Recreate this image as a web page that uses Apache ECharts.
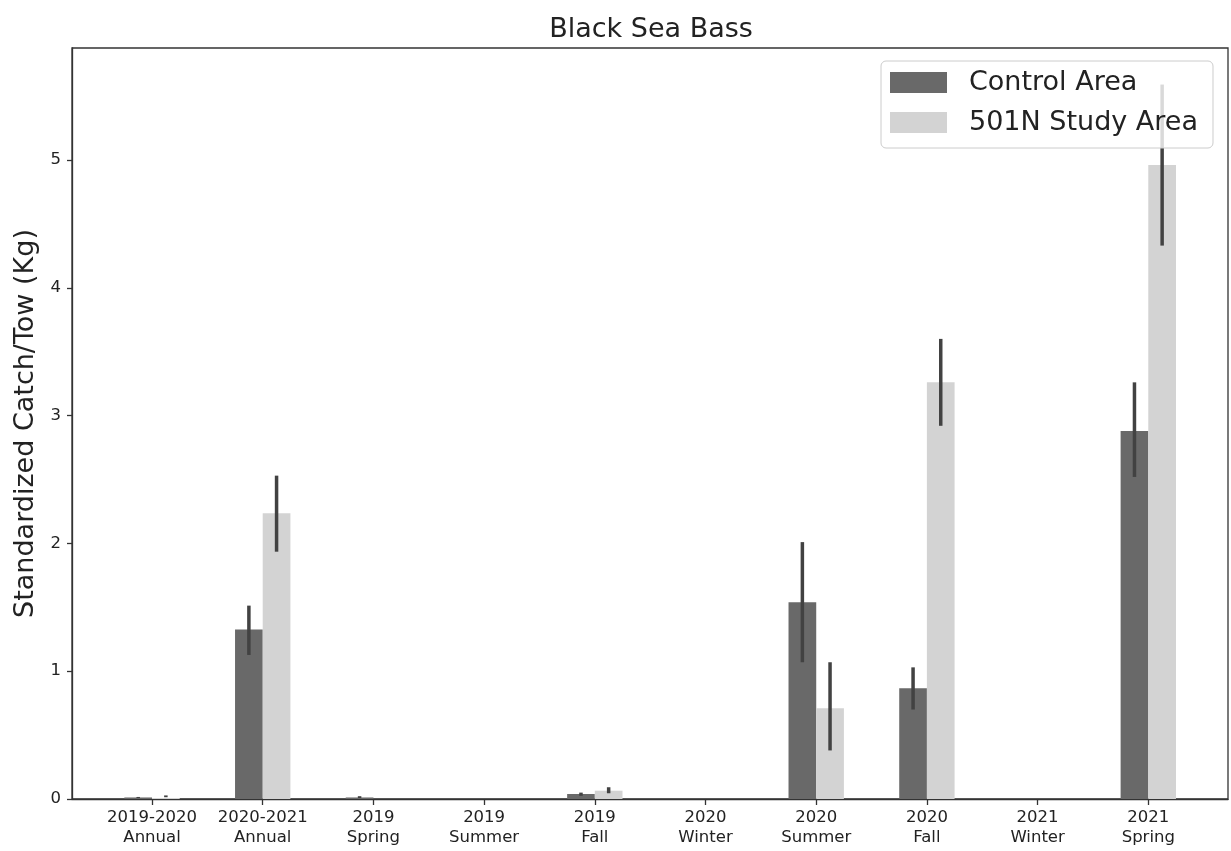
<!DOCTYPE html>
<html>
<head>
<meta charset="utf-8">
<script src="https://cdn.jsdelivr.net/npm/echarts@6/dist/echarts.min.js"></script>
<style>html,body{margin:0;padding:0;background:#fff}#chart{width:1231px;height:851px}</style>
</head>
<body>
<div id="chart"></div>
<script>
const categories = ['2019-2020\nAnnual','2020-2021\nAnnual','2019\nSpring','2019\nSummer','2019\nFall','2020\nWinter','2020\nSummer','2020\nFall','2021\nWinter','2021\nSpring'];
const controlValues = [0.012, 1.326, 0.012, 0, 0.039, 0, 1.54, 0.866, 0, 2.88];
const controlLow    = [0.008, 1.127, 0.008, null, 0.025, null, 1.07, 0.70, null, 2.52];
const controlHigh   = [0.016, 1.513, 0.022, null, 0.05, null, 2.01, 1.03, null, 3.26];
const studyValues   = [0.008, 2.235, 0, 0, 0.065, 0, 0.71, 3.26, 0, 4.96];
const studyLow      = [0.014, 1.935, null, null, 0.045, null, 0.38, 2.92, null, 4.33];
const studyHigh     = [0.028, 2.53, null, null, 0.092, null, 1.07, 3.60, null, 5.59];
const yTicks = [0, 1, 2, 3, 4, 5];
const seriesNames = ['Control Area', '501N Study Area'];

const OFF = 0.125;
const xIdx = categories.map((c, i) => i);
const ctrlBars = controlValues.map((v, i) => [i - OFF, v]);
const studyBars = studyValues.map((v, i) => [i + OFF, v]);
const errData = [];
controlLow.forEach((lo, i) => { if (lo !== null) errData.push([i - OFF, lo, controlHigh[i]]); });
studyLow.forEach((lo, i) => { if (lo !== null) errData.push([i + OFF, lo, studyHigh[i]]); });

const chart = echarts.init(document.getElementById('chart'));
const font = 'DejaVu Sans';
chart.setOption({
  animation: false,
  backgroundColor: '#ffffff',
  textStyle: { fontFamily: font },
  title: {
    text: 'Black Sea Bass', left: 646, top: 11, textAlign: 'center',
    textStyle: { fontFamily: font, fontSize: 27, fontWeight: 'normal', color: '#222' }
  },
  legend: {
    data: seriesNames, orient: 'vertical', left: 881, top: 61,
    itemWidth: 57, itemHeight: 21, itemGap: 13, icon: 'rect',
    padding: [8, 15, 12, 9],
    borderColor: '#cccccc', borderWidth: 1, borderRadius: 5,
    backgroundColor: 'rgba(255,255,255,0.8)',
    textStyle: { fontFamily: font, fontSize: 27, color: '#222', lineHeight: 27, padding: [0, 0, 0, 17] }
  },
  grid: { left: 72, right: 3, top: 48, bottom: 52, outerBoundsMode: 'none', containLabel: false, show: true, borderColor: '#333', borderWidth: 1.3, backgroundColor: 'transparent' },
  xAxis: {
    type: 'value', min: -0.723, max: 9.72,
    splitLine: { show: false },
    axisLine: { onZero: false, lineStyle: { color: '#333', width: 1.3 } },
    axisTick: { show: true, length: 6, customValues: xIdx, lineStyle: { color: '#333', width: 1.3 } },
    axisLabel: {
      customValues: xIdx, margin: 9,
      formatter: v => categories[Math.round(v)],
      fontFamily: font, fontSize: 16.5, color: '#222', lineHeight: 20
    }
  },
  yAxis: {
    type: 'value', min: 0, max: 5.876,
    name: 'Standardized Catch/Tow (Kg)', nameLocation: 'middle', nameGap: 27,
    nameTextStyle: { fontFamily: font, fontSize: 27, color: '#222' },
    splitLine: { show: false },
    axisLine: { show: true, onZero: false, lineStyle: { color: '#333', width: 1.3 } },
    axisTick: { show: true, length: 5, customValues: yTicks, lineStyle: { color: '#333', width: 1.3 } },
    axisLabel: { customValues: yTicks, margin: 11, fontFamily: font, fontSize: 16.5, color: '#222' }
  },
  series: [
    { name: seriesNames[0], type: 'bar', data: ctrlBars, barWidth: 27.7, barGap: '-100%', itemStyle: { color: '#696969' } },
    { name: seriesNames[1], type: 'bar', data: studyBars, barWidth: 27.7, barGap: '-100%', itemStyle: { color: '#d3d3d3' } },
    {
      name: 'err', type: 'custom', data: errData, encode: { x: 0, y: [1, 2] }, z: 3,
      renderItem: (params, api) => {
        const p1 = api.coord([api.value(0), api.value(1)]);
        const p2 = api.coord([api.value(0), api.value(2)]);
        return { type: 'line', shape: { x1: p1[0], y1: p1[1], x2: p2[0], y2: p2[1] }, style: { stroke: '#424242', lineWidth: 3.5 } };
      }
    }
  ]
});
</script>
</body>
</html>
